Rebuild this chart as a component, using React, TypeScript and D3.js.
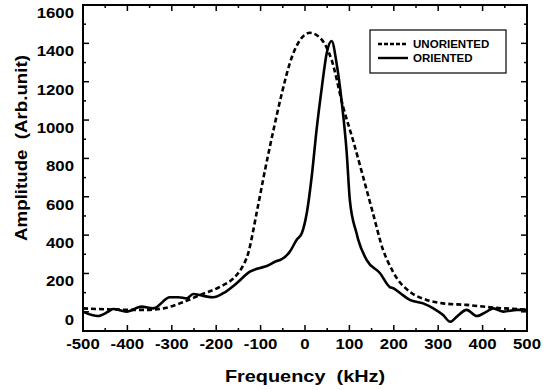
import React from 'react';
import * as d3 from 'd3';

const xTickValues = [-500, -400, -300, -200, -100, 0, 100, 200, 300, 400, 500];
const yTickValues = [0, 200, 400, 600, 800, 1000, 1200, 1400, 1600];

const unorientedFreq = [-500, -447, -364, -319, -282, -236, -191, -161, -143, -128, -109, -90, -71, -52, -34, -11, 11, 38, 60, 86, 108, 131, 153, 176, 186, 198, 207, 236, 274, 311, 364, 424, 500];
const unorientedAmp = [18, 13, 10, 18, 44, 88, 131, 175, 227, 305, 515, 740, 948, 1141, 1298, 1418, 1455, 1418, 1313, 1068, 896, 703, 515, 322, 265, 210, 175, 105, 62, 44, 36, 22, 12];

const orientedFreq = [-500, -466, -443, -432, -402, -368, -342, -304, -285, -266, -252, -229, -207, -184, -154, -124, -101, -86, -64, -56, -34, -19, -7, 4, 15, 26, 38, 49, 60, 71, 83, 94, 101, 116, 120, 139, 169, 191, 199, 214, 236, 266, 289, 311, 327, 342, 364, 387, 409, 424, 447, 477, 500];
const orientedAmp = [1, -22, 1, 15, 1, 27, 18, 76, 76, 70, 93, 83, 76, 97, 149, 209, 229, 239, 265, 270, 314, 375, 411, 515, 703, 948, 1172, 1350, 1412, 1298, 1089, 828, 583, 411, 375, 270, 201, 129, 123, 98, 62, 44, 18, -17, -52, -25, 10, -22, 1, 18, 1, 10, 10];

const FONT = '"Liberation Sans", Arial, sans-serif';

export default function App() {
  const x = d3.scaleLinear().domain([-500, 500]).range([83, 527]);
  const y = d3.scaleLinear().domain([-100, 1600]).range([331, 5]);
  const line = d3
    .line<[number, number]>()
    .x((d) => x(d[0]))
    .y((d) => y(d[1]))
    .curve(d3.curveMonotoneX);

  const unoriented: [number, number][] = unorientedFreq.map((f, i) => [f, unorientedAmp[i]]);
  const oriented: [number, number][] = orientedFreq.map((f, i) => [f, orientedAmp[i]]);

  const [x0, x1] = x.range();
  const [y0, y1] = y.range();
  const xMinor = d3.range(-450, 500, 100);
  const yMinor = d3.range(100, 1600, 200);

  const sx = 1.2;

  return (
    <svg width={549} height={390} style={{ position: 'absolute', left: 0, top: 0, background: '#fff' }}>
      <defs>
        <clipPath id="plot">
          <rect x={x0} y={y1} width={x1 - x0} height={y0 - y1} />
        </clipPath>
      </defs>
      {/* ticks */}
      <g stroke="#000" strokeWidth={1.5}>
        {xTickValues.map((v) => (
          <g key={'xt' + v}>
            <line x1={x(v)} x2={x(v)} y1={y0} y2={y0 - 6} />
            <line x1={x(v)} x2={x(v)} y1={y1} y2={y1 + 6} />
          </g>
        ))}
        {xMinor.map((v) => (
          <g key={'xm' + v}>
            <line x1={x(v)} x2={x(v)} y1={y0} y2={y0 - 3} />
            <line x1={x(v)} x2={x(v)} y1={y1} y2={y1 + 3} />
          </g>
        ))}
        {yTickValues.map((v) => (
          <g key={'yt' + v}>
            <line x1={x0} x2={x0 + 6} y1={y(v)} y2={y(v)} />
            <line x1={x1} x2={x1 - 6} y1={y(v)} y2={y(v)} />
          </g>
        ))}
        {yMinor.map((v) => (
          <g key={'ym' + v}>
            <line x1={x0} x2={x0 + 3} y1={y(v)} y2={y(v)} />
            <line x1={x1} x2={x1 - 3} y1={y(v)} y2={y(v)} />
          </g>
        ))}
      </g>
      {/* curves */}
      <g clipPath="url(#plot)" fill="none" stroke="#000" strokeLinejoin="round">
        <path d={line(unoriented) || ''} strokeWidth={2.6} strokeDasharray="5,3" />
        <path d={line(oriented) || ''} strokeWidth={2.6} />
      </g>
      {/* frame */}
      <rect x={x0} y={y1} width={x1 - x0} height={y0 - y1} fill="none" stroke="#000" strokeWidth={2} />
      {/* x tick labels */}
      <g fontFamily={FONT} fontWeight="bold" fontSize={14} fill="#000">
        {xTickValues.map((v) => (
          <text key={'xl' + v} transform={`translate(${x(v)},349) scale(${sx},1)`} textAnchor="middle">
            {v}
          </text>
        ))}
        {yTickValues.map((v) => (
          <text key={'yl' + v} transform={`translate(74,${y(v) + 13}) scale(${sx},1)`} textAnchor="end">
            {v}
          </text>
        ))}
      </g>
      {/* axis titles */}
      <text
        transform={`translate(305,382) scale(1.17,1)`}
        textAnchor="middle"
        fontFamily={FONT}
        fontWeight="bold"
        fontSize={17}
        style={{ whiteSpace: 'pre' }}
      >
        {'Frequency  (kHz)'}
      </text>
      <text
        transform={`translate(27,148) rotate(-90) scale(1.1,1)`}
        textAnchor="middle"
        fontFamily={FONT}
        fontWeight="bold"
        fontSize={17}
        style={{ whiteSpace: 'pre' }}
      >
        {'Amplitude  (Arb.unit)'}
      </text>
      {/* legend */}
      <g>
        <rect x={370} y={30} width={136} height={43} fill="#fff" stroke="#000" strokeWidth={1.2} />
        <line x1={378} x2={408} y1={44} y2={44} stroke="#000" strokeWidth={2.4} strokeDasharray="4,2" />
        <line x1={378} x2={408} y1={58} y2={58} stroke="#000" strokeWidth={2.4} />
        <text transform="translate(413,48) scale(1.05,1)" fontFamily={FONT} fontWeight="bold" fontSize={11}>
          UNORIENTED
        </text>
        <text transform="translate(413,62) scale(1.05,1)" fontFamily={FONT} fontWeight="bold" fontSize={11}>
          ORIENTED
        </text>
      </g>
    </svg>
  );
}
